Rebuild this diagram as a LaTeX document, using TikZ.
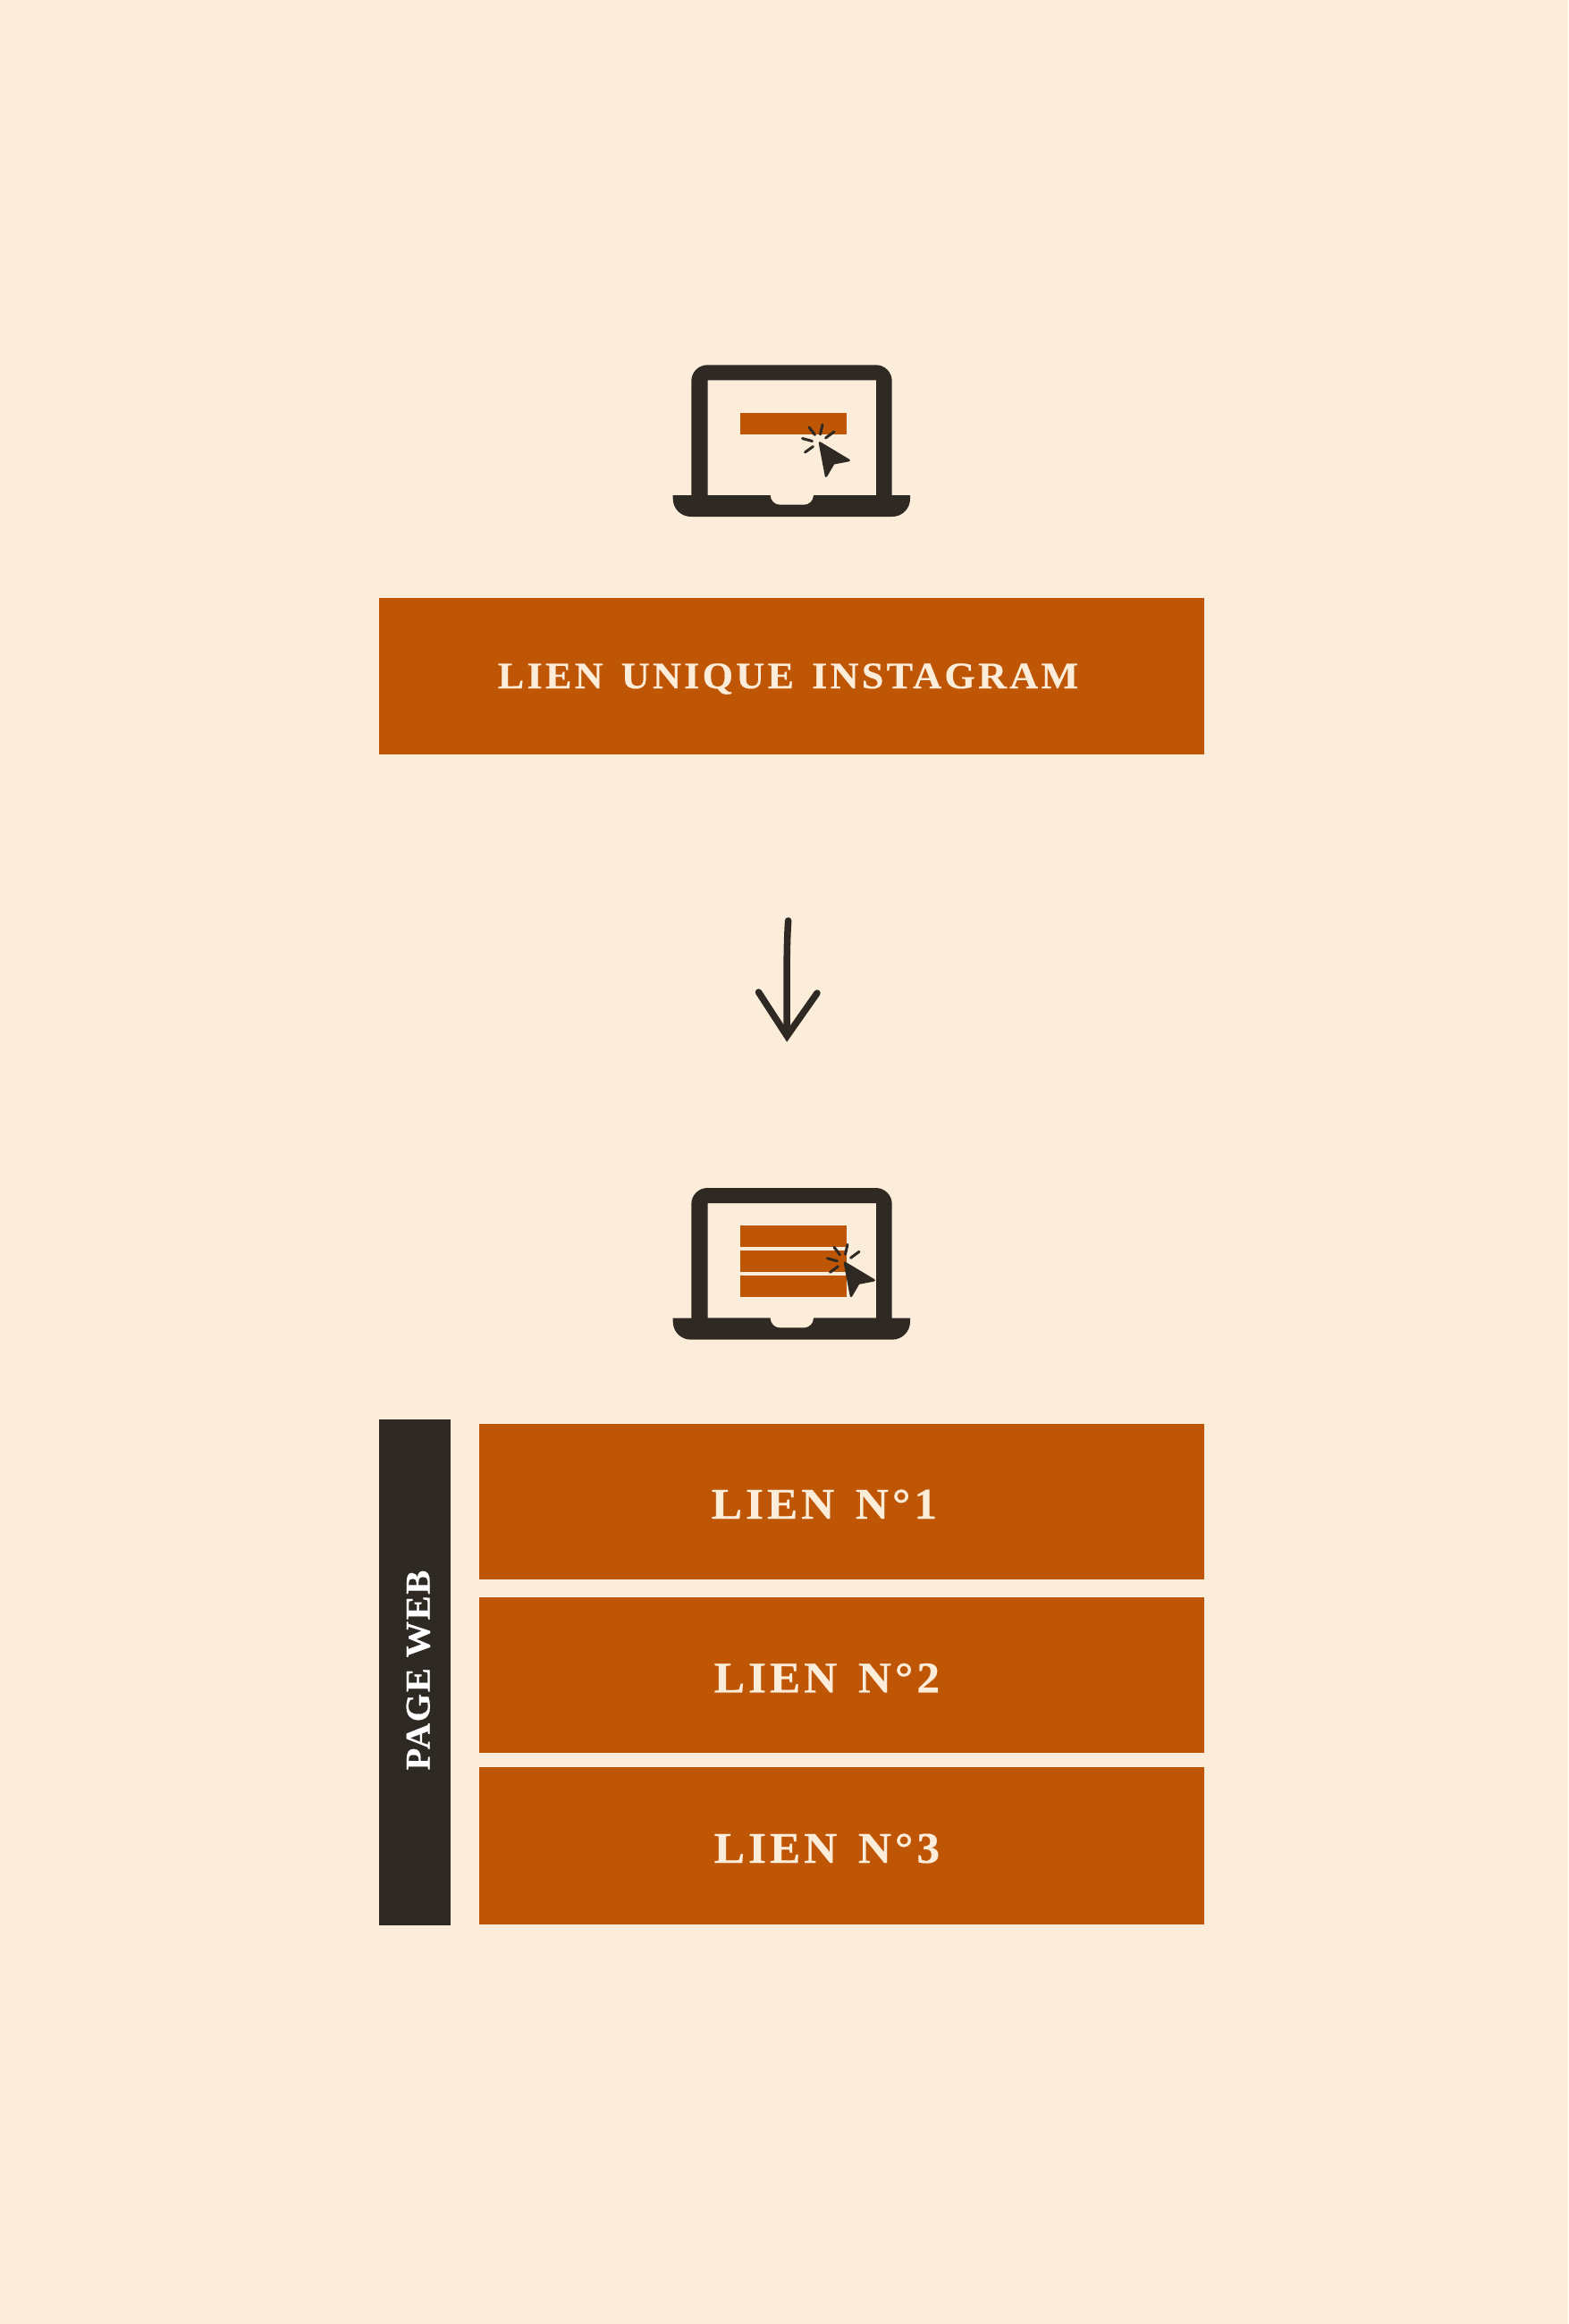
\documentclass[tikz,border=0pt]{standalone}
\usepackage{fontspec}
\setmainfont{Liberation Serif}
\newfontfamily\spacedfont[LetterSpace=8,FakeStretch=1.05,WordSpace=1.4,FakeBold=0.4]{Liberation Serif}
\newfontfamily\webfont[LetterSpace=4,FakeStretch=1.04,FakeBold=0.4]{Liberation Serif}
\newlength{\du}
\setlength{\du}{1pt}
\definecolor{pagecream}{rgb}{0.984, 0.929, 0.851}
\definecolor{burntorange}{rgb}{0.749, 0.337, 0.020}
\definecolor{laptopdark}{rgb}{0.184, 0.161, 0.141}
\tikzset{
  orangebox/.style={fill=burntorange, inner sep=0pt},
  darkbox/.style={fill=laptopdark, inner sep=0pt},
  boxlabel/.style={text=pagecream, inner sep=0pt, anchor=base, font=\spacedfont\bfseries},
  raystroke/.style={draw=laptopdark, line width=3\du, line cap=round},
  arrowstroke/.style={draw=laptopdark, line width=7.5\du, line cap=round, line join=miter}
}
% screen frame, base and the cut in the base
\newcommand{\laptopicon}{
\fill[laptopdark, even odd rule, rounded corners=18\du] (773.3\du,570\du)--(773.3\du,408.3\du)--(997.7\du,408.3\du)--(997.7\du,570\du)--cycle
  [sharp corners] (791.7\du,425.3\du)--(980\du,425.3\du)--(980\du,554\du)--(791.7\du,554\du)--cycle;
\fill[laptopdark] (752.7\du,554\du) [rounded corners=20\du] --(752.7\du,578\du)--(1018\du,578\du) [sharp corners] --(1018\du,554\du)--cycle;
\fill[pagecream] (861.7\du,553\du) [rounded corners=11\du] --(861.7\du,564.7\du)--(910\du,564.7\du) [sharp corners] --(910\du,553\du)--cycle;
}
% pointer with its small rays
\newcommand{\clickcursor}{
\filldraw[fill=laptopdark, draw=laptopdark, line width=2.6\du, line join=round] (917\du,495.5\du)--(949.5\du,515\du)--(932.3\du,518.3\du)--(924\du,532.5\du)--cycle;
\draw[raystroke] (905\du,478\du)--(911.5\du,486.5\du);
\draw[raystroke] (920\du,475\du)--(917.5\du,486\du);
\draw[raystroke] (933\du,483\du)--(923.5\du,490\du);
\draw[raystroke] (897.5\du,490.5\du)--(908.5\du,493.5\du);
\draw[raystroke] (900.5\du,506\du)--(909.5\du,499.5\du);
}

\begin{document}
\begin{tikzpicture}
\pgftransformxscale{1.000000}
\pgftransformyscale{-1.000000}
\fill[pagecream] (0\du,0\du) rectangle (1754\du,2600\du);
\useasboundingbox (0\du,0\du) rectangle (1754\du,2600\du);
% first laptop
\laptopicon
\fill[burntorange] (828\du,462\du) rectangle (947\du,486\du);
\clickcursor
\node[orangebox, minimum width=923\du, minimum height=175\du] (uniquebox) at (885.5\du,756.5\du) {};
\node[boxlabel] (uniquelabel) at (881.5\du,770\du) {\fontsize{42}{50}\selectfont LIEN UNIQUE INSTAGRAM};
% arrow
\coordinate (arrowtop) at (881.7\du,1030\du);
\coordinate (arrowbase) at (880.3\du,1156\du);
\coordinate (armleft) at (848.5\du,1110\du);
\coordinate (armright) at (914\du,1111\du);
\coordinate (arrowtip) at (880.3\du,1159\du);
\draw[arrowstroke] (arrowtop) .. controls (879.5\du,1060\du) and (880\du,1110\du) .. (arrowbase);
\draw[arrowstroke] (armleft)--(arrowtip)--(armright);
% second laptop
\begin{scope}[shift={(0\du,920.7\du)}]
\laptopicon
\end{scope}
\fill[burntorange] (828\du,1371\du) rectangle (947\du,1395\du);
\fill[burntorange] (828\du,1399\du) rectangle (947\du,1423\du);
\fill[burntorange] (828\du,1427\du) rectangle (947\du,1451\du);
\begin{scope}[shift={(28\du,917.3\du)}]
\clickcursor
\end{scope}
% page column and links
\node[darkbox, minimum width=80\du, minimum height=566\du] (webbox) at (464\du,1871\du) {};
\node[boxlabel, text=white, rotate=90, font=\webfont\bfseries] (weblabel) at (480.5\du,1868.5\du) {\fontsize{39}{46}\selectfont PAGE WEB};
\node[orangebox, minimum width=811\du, minimum height=174\du] (lienonebox) at (941.5\du,1680\du) {};
\node[orangebox, minimum width=811\du, minimum height=174\du] (lientwobox) at (941.5\du,1874\du) {};
\node[orangebox, minimum width=811\du, minimum height=176\du] (lienthreebox) at (941.5\du,2065\du) {};
\node[boxlabel] (lienonelabel) at (922\du,1699\du) {\fontsize{49}{58}\selectfont LIEN N°1};
\node[boxlabel] (lientwolabel) at (925\du,1893.4\du) {\fontsize{49}{58}\selectfont LIEN N°2};
\node[boxlabel] (lienthreelabel) at (925\du,2084\du) {\fontsize{49}{58}\selectfont LIEN N°3};
\end{tikzpicture}
\end{document}
